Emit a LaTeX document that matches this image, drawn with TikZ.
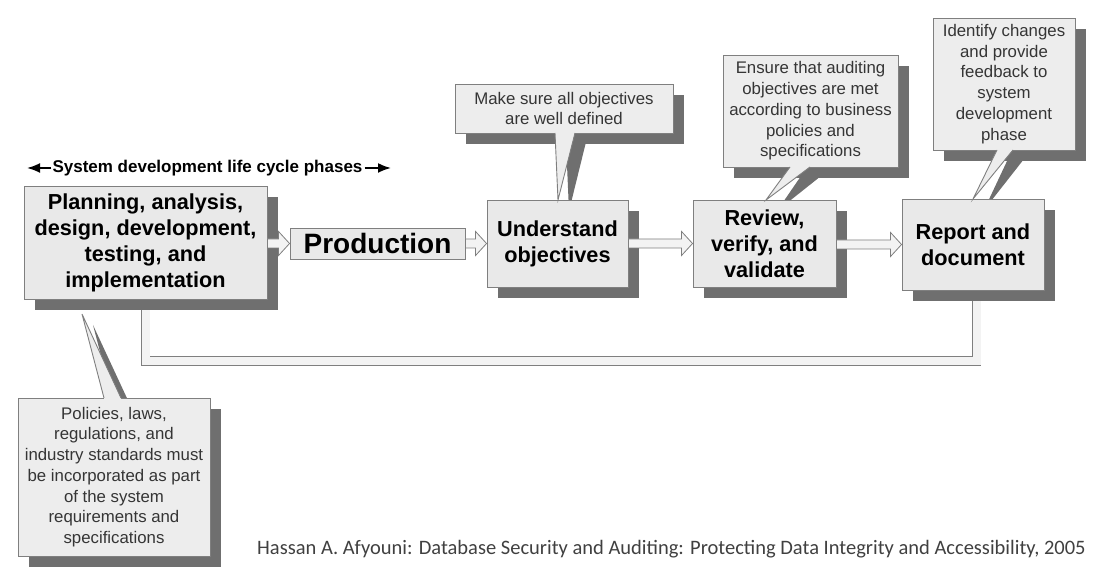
\documentclass[tikz,border=0pt]{standalone}
\usepackage{fontspec}
\setmainfont{Liberation Sans}
\newfontfamily\calibri{Carlito}
\usetikzlibrary{shadows,calc,arrows.meta}
\definecolor{boxfill}{HTML}{E9E9E9}
\definecolor{calloutfill}{HTML}{EDEDED}
\definecolor{bordergray}{HTML}{7F7F7F}
\definecolor{shadowgray}{HTML}{6F6F6F}
\definecolor{arrowfill}{HTML}{F3F3F3}
\definecolor{calltext}{HTML}{353535}
\definecolor{citegray}{HTML}{404040}
\newcommand\blockarr[2]{\draw[blockarrow] let \p1=(#1), \p2=(#2) in
  (\x1,\y2+4.5pt) -- (\x2-11pt,\y2+4.5pt) -- (\x2-11pt,\y2+12pt) -- (\x2,\y2)
  -- (\x2-11pt,\y2-12pt) -- (\x2-11pt,\y2-4.5pt) -- (\x1,\y2-4.5pt) -- cycle;}
\tikzset{
  shadowed/.style={drop shadow={shadow xshift=11pt,shadow yshift=-11pt,fill=shadowgray,opacity=1}},
  mainbox/.style={draw=bordergray,fill=boxfill,line width=0.9pt,inner sep=0pt,align=center,
    font=\fontsize{21.7}{26}\selectfont\bfseries},
  callout/.style={draw=bordergray,fill=calloutfill,line width=0.9pt,inner sep=0pt,align=center,
    text=calltext,font=\fontsize{16.8}{20.7}\selectfont,shadowed},
  blockarrow/.style={draw=bordergray,fill=arrowfill,line width=0.8pt},
  ptrshadow/.style={fill=shadowgray,draw=none},
  ptrfill/.style={fill=calloutfill,draw=none},
  ptredge/.style={draw=bordergray,line width=0.9pt},
  feedline/.style={draw=bordergray,line width=0.9pt,double=arrowfill,double distance=8pt},
  hdrarrow/.style={-{Latex[length=13pt,width=10pt]},line width=1.8pt,black},
}
\begin{document}
\begin{tikzpicture}[x=1pt,y=-1pt]
\useasboundingbox (0,0) rectangle (1096,569);

% header
\node[inner sep=0pt,font=\fontsize{17}{18}\selectfont\bfseries] (hdr) at (207.5,168) {System development life cycle phases};
\coordinate (hl) at (27,168);
\coordinate (hr) at (391,168);
\draw[hdrarrow] ([xshift=-1pt]hdr.west) -- (hl);
\draw[hdrarrow] ([xshift=2pt]hdr.east) -- (hr);

% feedback line (behind boxes)
\coordinate (fbl) at (145.5,361);
\coordinate (fbr) at (976.5,361);
\draw[feedline] (145.5,299) -- (fbl) -- (fbr) -- (976.5,290);

% pointer shadows
\fill[ptrshadow] (566,142) -- (569,211) -- (586,142) -- cycle;
\fill[ptrshadow] (801,176) -- (777,211) -- (821,176) -- cycle;
\fill[ptrshadow] (1008,159) -- (984,210) -- (1024,159) -- cycle;
\fill[ptrshadow] (115,409) -- (93,325) -- (132,409) -- cycle;

% main boxes
\node[mainbox,shadowed,minimum width=243pt,minimum height=113pt] (plan) at (145.5,242.5)
  {Planning, analysis,\\design, development,\\testing, and\\implementation};
\node[mainbox,minimum width=175pt,minimum height=31pt,font=\fontsize{28}{32}\selectfont\bfseries] (prod) at (377.5,243.5) {Production};
\node[mainbox,shadowed,minimum width=141pt,minimum height=87pt] (und) at (557.5,243.5) {Understand\\objectives};
\node[mainbox,shadowed,minimum width=143pt,minimum height=87pt] (rev) at (764.5,243.5) {Review,\\verify, and\\validate};
\node[mainbox,shadowed,minimum width=142pt,minimum height=91pt] (rep) at (973,244.5) {Report and\\document};

% callouts
\node[callout,minimum width=218pt,minimum height=49pt] (cms) at (564,108.5) {Make sure all objectives\\are well defined};
\node[callout,minimum width=175pt,minimum height=112pt] (cen) at (810.5,111) {Ensure that auditing\\objectives are met\\according to business\\policies and\\specifications};
\node[callout,minimum width=142pt,minimum height=132pt] (cid) at (1004,84) {Identify changes\\and provide\\feedback to\\system\\development\\phase};
\node[callout,minimum width=192pt,minimum height=158pt] (cpo) at (114,477) {Policies, laws,\\regulations, and\\industry standards must\\be incorporated as part\\of the system\\requirements and\\specifications};

% light pointers
\fill[ptrfill] (555,131.8) -- (558,200) -- (575,131.8) -- cycle;
\draw[ptredge] (555,133) -- (558,200) -- (575,133);
\fill[ptrfill] (791,165.8) -- (766,200) -- (811,165.8) -- cycle;
\draw[ptredge] (790,167) -- (766,200) -- (810,167);
\fill[ptrfill] (997.5,148.8) -- (973,199) -- (1013.5,148.8) -- cycle;
\draw[ptredge] (997,150) -- (973,199) -- (1013,150);
\fill[ptrfill] (104.3,399.2) -- (82,314) -- (121.3,399.2) -- cycle;
\draw[ptredge] (104,398) -- (82,314) -- (121,398);

% block arrows
\blockarr{plan.east}{prod.west}
\blockarr{prod.east}{und.west}
\blockarr{und.east}{rev.west}
\blockarr{rev.east}{rep.west}

% citation
\node[anchor=west,inner sep=0pt,text=citegray,font=\calibri\fontsize{20.5}{22}\selectfont] (cite) at (257,549)
  {Hassan A. Afyouni: Database Security and Auditing: Protecting Data Integrity and Accessibility, 2005};
\end{tikzpicture}
\end{document}
